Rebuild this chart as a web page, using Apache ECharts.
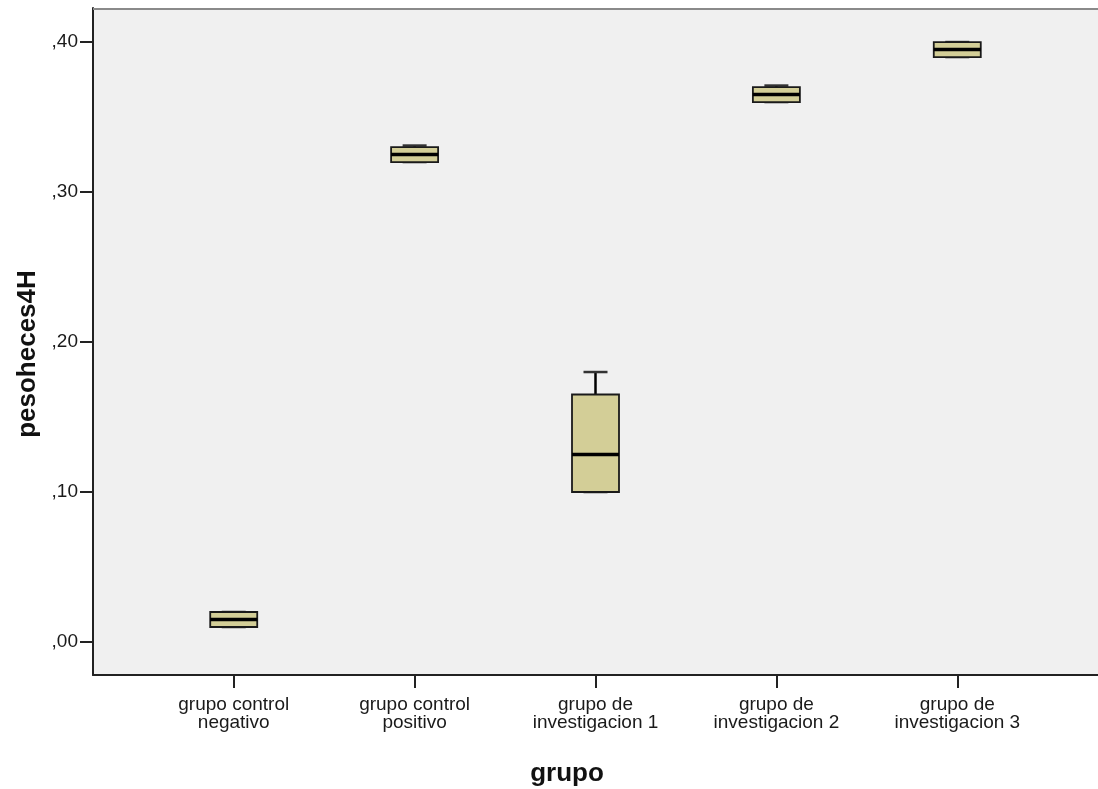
<!DOCTYPE html>
<html>
<head>
<meta charset="utf-8">
<script src="https://cdn.jsdelivr.net/npm/echarts@6/dist/echarts.min.js"></script>
<style>
html,body{margin:0;padding:0;background:#fff;}
#c{width:1098px;height:789px;}
</style>
</head>
<body>
<div id="c"></div>
<script>
// Data
var categories = ['grupo control\nnegativo', 'grupo control\npositivo', 'grupo de\ninvestigacion 1', 'grupo de\ninvestigacion 2', 'grupo de\ninvestigacion 3'];
var positions = [1, 2, 3, 4, 5];
var mins    = [0.010, 0.320, 0.100, 0.360, 0.390];
var q1s     = [0.010, 0.320, 0.100, 0.360, 0.390];
var medians = [0.015, 0.325, 0.125, 0.365, 0.395];
var q3s     = [0.020, 0.330, 0.165, 0.370, 0.400];
var maxs    = [0.020, 0.331, 0.180, 0.371, 0.400];
var yTicks  = [0, 0.1, 0.2, 0.3, 0.4];
var yTickLabels = [',00', ',10', ',20', ',30', ',40'];
var xTitle = 'grupo';
var yTitle = 'pesoheces4H';

var seriesData = positions.map(function (p, i) {
  return [p, mins[i], q1s[i], medians[i], q3s[i], maxs[i]];
});

var chart = echarts.init(document.getElementById('c'));
var FONT = '"Liberation Sans", Arial, sans-serif';

function renderItem(params, api) {
  var x = api.value(0);
  var pMin = api.coord([x, api.value(1)]);
  var pQ1 = api.coord([x, api.value(2)]);
  var pMed = api.coord([x, api.value(3)]);
  var pQ3 = api.coord([x, api.value(4)]);
  var pMax = api.coord([x, api.value(5)]);
  var cx = pMed[0];
  var hw = 23.5, cw = 12;
  var lineStyle = { stroke: '#000', lineWidth: 2.5 };
  return {
    type: 'group',
    children: [
      { type: 'line', shape: { x1: cx, y1: pQ3[1], x2: cx, y2: pMax[1] }, style: lineStyle },
      { type: 'line', shape: { x1: cx, y1: pQ1[1], x2: cx, y2: pMin[1] }, style: lineStyle },
      { type: 'line', shape: { x1: cx - cw, y1: pMax[1], x2: cx + cw, y2: pMax[1] }, style: { stroke: '#333', lineWidth: 2.5 } },
      { type: 'line', shape: { x1: cx - cw, y1: pMin[1], x2: cx + cw, y2: pMin[1] }, style: { stroke: '#333', lineWidth: 2.5 } },
      { type: 'rect', shape: { x: cx - hw, y: pQ3[1], width: hw * 2, height: pQ1[1] - pQ3[1] },
        style: { fill: '#d3ce97', stroke: '#1a1a1a', lineWidth: 1.8 } },
      { type: 'line', shape: { x1: cx - hw, y1: pMed[1], x2: cx + hw, y2: pMed[1] },
        style: { stroke: '#000', lineWidth: 3.5 } }
    ]
  };
}

chart.setOption({
  animation: false,
  backgroundColor: '#ffffff',
  grid: { left: 93, top: 8, width: 1006, height: 667, show: true, backgroundColor: '#f0f0f0', borderWidth: 0 },
  xAxis: {
    type: 'value',
    min: 0.222,
    max: 5.778,
    splitLine: { show: false },
    axisLine: { show: true, onZero: false, lineStyle: { color: '#222', width: 2 } },
    axisTick: { show: true, length: 13, customValues: positions, lineStyle: { color: '#222', width: 2 } },
    axisLabel: {
      customValues: positions,
      formatter: function (v) { return categories[Math.round(v) - 1] || ''; },
      color: '#1a1a1a', fontFamily: FONT, fontSize: 19, lineHeight: 18, margin: 21
    }
  },
  yAxis: {
    type: 'value',
    min: -0.022,
    max: 0.4227,
    splitLine: { show: false },
    axisLine: { show: true, onZero: false, lineStyle: { color: '#222', width: 2 } },
    axisTick: { show: true, length: 13, customValues: yTicks, lineStyle: { color: '#222', width: 2 } },
    axisLabel: {
      customValues: yTicks,
      formatter: function (v) {
        for (var i = 0; i < yTicks.length; i++) { if (Math.abs(yTicks[i] - v) < 1e-6) return yTickLabels[i]; }
        return '';
      },
      color: '#1a1a1a', fontFamily: FONT, fontSize: 19, margin: 15, padding: [9, 0, 0, 0]
    }
  },
  graphic: [
    { type: 'line', shape: { x1: 93, y1: 9, x2: 1099, y2: 9 }, style: { stroke: '#8a8a8a', lineWidth: 2 }, z: 10 },
    { type: 'text', x: 567, y: 774, style: { text: xTitle, font: 'bold 26px ' + FONT, fill: '#111', textAlign: 'center', textVerticalAlign: 'middle' } },
    { type: 'text', x: 28, y: 354, rotation: Math.PI / 2, style: { text: yTitle, font: 'bold 26px ' + FONT, fill: '#111', textAlign: 'center', textVerticalAlign: 'middle' } }
  ],
  series: [{
    type: 'custom',
    renderItem: renderItem,
    encode: { x: 0, y: [1, 2, 3, 4, 5] },
    data: seriesData
  }]
});
</script>
</body>
</html>
